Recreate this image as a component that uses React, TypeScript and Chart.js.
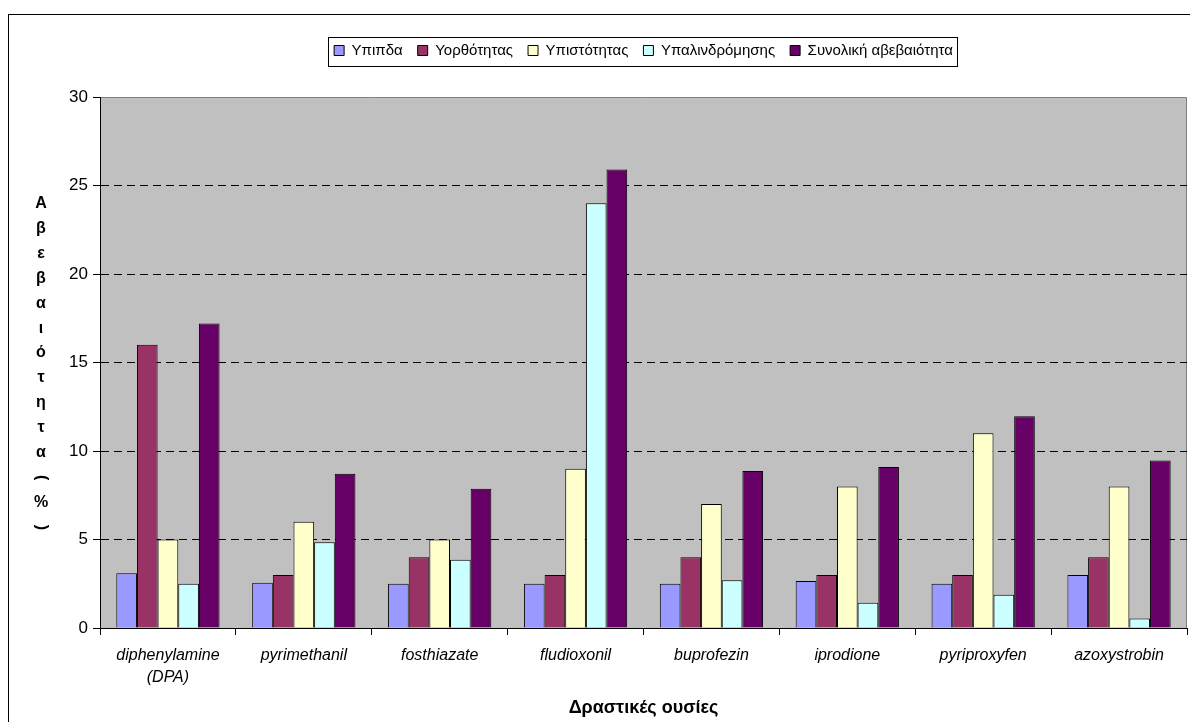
import React, { useEffect, useRef } from "react";
import { Chart, registerables } from "chart.js";

Chart.register(...registerables);

const categories: (string | string[])[] = [
  ["diphenylamine", "(DPA)"],
  "pyrimethanil",
  "fosthiazate",
  "fludioxonil",
  "buprofezin",
  "iprodione",
  "pyriproxyfen",
  "azoxystrobin",
];

const seriesNames = ["Υπιπδα", "Υορθότητας", "Υπιστότητας", "Υπαλινδρόμησης", "Συνολική αβεβαιότητα"];

const uPipd = [3.1, 2.55, 2.5, 2.5, 2.5, 2.65, 2.5, 3.0];
const uTrueness = [16.0, 3.0, 4.0, 3.0, 4.0, 3.0, 3.0, 4.0];
const uPrecision = [5.0, 6.0, 5.0, 9.0, 7.0, 8.0, 11.0, 8.0];
const uRegression = [2.5, 4.85, 3.85, 24.0, 2.7, 1.43, 1.88, 0.53];
const uTotal = [17.2, 8.72, 7.87, 25.9, 8.87, 9.1, 11.97, 9.47];

const seriesColors = ["#9999FF", "#993366", "#FFFFCC", "#CCFFFF", "#660066"];

const yTicks = [0, 5, 10, 15, 20, 25, 30];
const yTitleChars = ["Α", "β", "ε", "β", "α", "ι", "ό", "τ", "η", "τ", "α", "(", "%", ")"];
const xTitle = "Δραστικές ουσίες";

const FONT = "Arial, 'Liberation Sans', sans-serif";

function legendShift(chart: any) {
  const lg = chart.legend;
  const a = chart.chartArea;
  if (!lg || !a) return 0;
  const boxes = lg.legendHitBoxes || [];
  if (!boxes.length) return 0;
  let l = Infinity, r = -Infinity;
  boxes.forEach((h: any) => {
    l = Math.min(l, h.left);
    r = Math.max(r, h.left + h.width);
  });
  return Math.round((a.left + a.right) / 2 - (l + r) / 2);
}

export default function App() {
  const ref = useRef<HTMLCanvasElement | null>(null);

  useEffect(() => {
    if (!ref.current) return;
    const values = [uPipd, uTrueness, uPrecision, uRegression, uTotal];

    const decor = {
      id: "decor",
      beforeLayout(chart: any) {
        const lg = chart.legend;
        if (lg && !lg._patched) {
          const origFit = lg.fit.bind(lg);
          lg.fit = function () {
            origFit();
            this.height = 69;
          };
          const origDraw = lg.draw.bind(lg);
          lg.draw = function () {
            const dx = legendShift(chart);
            chart.ctx.save();
            chart.ctx.translate(dx, 0);
            origDraw();
            chart.ctx.restore();
          };
          lg._patched = true;
        }
      },
      beforeDraw(chart: any) {
        const { ctx, chartArea: a } = chart;
        ctx.save();
        ctx.fillStyle = "#ffffff";
        ctx.fillRect(0, 0, chart.width, chart.height);
        ctx.strokeStyle = "#000";
        ctx.lineWidth = 1;
        ctx.strokeRect(8.5, 14.5, 1200, 800);
        ctx.fillStyle = "#C0C0C0";
        ctx.fillRect(a.left, a.top, a.right - a.left, a.bottom - a.top);
        ctx.strokeStyle = "#808080";
        ctx.beginPath();
        ctx.moveTo(a.left, a.top + 0.5);
        ctx.lineTo(a.right - 0.5, a.top + 0.5);
        ctx.lineTo(a.right - 0.5, a.bottom);
        ctx.stroke();
        ctx.restore();
      },
      afterDraw(chart: any) {
        const { ctx, chartArea: a } = chart;
        ctx.save();
        ctx.fillStyle = "#000";
        ctx.font = `bold 16px ${FONT}`;
        ctx.textAlign = "center";
        ctx.textBaseline = "middle";
        const step = 24.9;
        const mid = (a.top + a.bottom) / 2 + 3;
        const y0 = mid - ((yTitleChars.length - 1) / 2) * step;
        yTitleChars.forEach((ch, i) => {
          const y = y0 + i * step;
          if (ch === "(" || ch === ")") {
            ctx.save();
            ctx.translate(41, y);
            ctx.rotate(Math.PI / 2);
            ctx.fillText(ch, 0, 0);
            ctx.restore();
          } else {
            ctx.fillText(ch, 41, y);
          }
        });
        const lg = chart.legend;
        if (lg && lg.legendHitBoxes && lg.legendHitBoxes.length) {
          const dx = legendShift(chart);
          let l = Infinity, r = -Infinity, t = Infinity, b = -Infinity;
          lg.legendHitBoxes.forEach((h: any) => {
            l = Math.min(l, h.left);
            r = Math.max(r, h.left + h.width);
            t = Math.min(t, h.top);
            b = Math.max(b, h.top + h.height);
          });
          const cy = (t + b) / 2;
          ctx.strokeStyle = "#000";
          ctx.lineWidth = 1;
          ctx.strokeRect(Math.round(l - 6 + dx) + 0.5, Math.round(cy - 14) + 0.5, Math.round(r - l + 10), 29);
        }
        ctx.restore();
      },
    };

    const chart = new Chart(ref.current, {
      type: "bar",
      data: {
        labels: categories,
        datasets: seriesNames.map((name, i) => ({
          label: name,
          data: values[i],
          backgroundColor: seriesColors[i],
          borderColor: "#000000",
          borderWidth: 1,
          categoryPercentage: 0.76,
          barPercentage: 1.0,
        })),
      },
      options: {
        animation: false,
        responsive: true,
        maintainAspectRatio: false,
        layout: { padding: { top: 28, right: 3, left: 0, bottom: 0 } },
        plugins: {
          legend: {
            display: true,
            position: "top",
            labels: {
              boxWidth: 10,
              boxHeight: 10,
              padding: 15,
              color: "#000",
              font: { family: FONT, size: 15 },
            },
          },
          tooltip: { enabled: false },
          title: { display: false },
        },
        scales: {
          x: {
            grid: {
              display: true,
              offset: true,
              drawOnChartArea: false,
              drawTicks: true,
              tickLength: 7,
              tickColor: "#000",
            },
            border: { display: true, color: "#000", width: 1 },
            ticks: {
              color: "#000",
              padding: 10,
              maxRotation: 0,
              autoSkip: false,
              font: { family: FONT, size: 16, style: "italic", lineHeight: 1.35 },
            },
            title: {
              display: true,
              text: xTitle,
              color: "#000",
              font: { family: FONT, size: 18, weight: "bold" },
              padding: { top: 4, bottom: 3 },
            },
            afterFit(scale: any) {
              scale.height = 94;
            },
          },
          y: {
            min: 0,
            max: 30,
            afterBuildTicks(scale: any) {
              scale.ticks = yTicks.map((v) => ({ value: v }));
            },
            grid: {
              color: (ctx: any) => (ctx.tick && (ctx.tick.value === 0 || ctx.tick.value === 30) ? "rgba(0,0,0,0)" : "#000"),
              tickColor: "#000",
              tickLength: 7,
              tickBorderDash: [],
              lineWidth: 1,
            },
            border: { display: true, color: "#000", width: 1, dash: [8, 5] },
            ticks: {
              color: "#000",
              padding: 5,
              font: { family: FONT, size: 17 },
            },
            afterFit(scale: any) {
              scale.width = 100;
            },
          },
        },
      },
      plugins: [decor],
    });

    return () => chart.destroy();
  }, []);

  return (
    <div style={{ position: "absolute", left: 0, top: 0, width: 1190, height: 722 }}>
      <canvas ref={ref} />
    </div>
  );
}
